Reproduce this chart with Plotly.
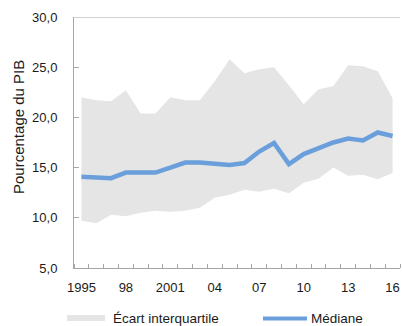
import plotly.graph_objects as go

years = list(range(1995, 2017))
upper = [22.0, 21.7, 21.6, 22.7, 20.4, 20.4, 22.0, 21.7, 21.7, 23.6, 25.8, 24.4,
         24.8, 25.0, 23.2, 21.3, 22.8, 23.1, 25.2, 25.1, 24.6, 21.9]
lower = [9.7, 9.45, 10.3, 10.15, 10.5, 10.7, 10.6, 10.7, 11.0, 12.0, 12.3, 12.8,
         12.6, 12.9, 12.45, 13.5, 13.9, 15.0, 14.2, 14.3, 13.85, 14.45]
median = [14.1, 14.07, 13.95, 14.5, 14.5, 14.5, 15.0, 15.5, 15.5, 15.4, 15.27, 15.45,
          16.6, 17.45, 15.35, 16.35, 16.9, 17.5, 17.9, 17.7, 18.5, 18.15]
tick_years = [1995, 1998, 2001, 2004, 2007, 2010, 2013, 2016]
tick_text = ["1995", "98", "2001", "04", "07", "10", "13", "16"]
y_ticks = [5, 10, 15, 20, 25, 30]
band_name = "Écart interquartile"
line_name = "Médiane"
y_title = "Pourcentage du PIB"

W, H = 402, 326
L, R, T, B = 74, 2, 17, 58
font_family = "Liberation Sans Narrow, Arial Narrow, Liberation Sans, Arial"
band_color = "#e5e5e5"
line_color = "#6a9fdc"
axis_color = "#a6a6a6"
text_color = "#1a1a1a"

pw, ph = W - L - R, H - T - B


def px(x):
    return (x - L) / pw


def py(y):
    return (H - B - y) / ph


fig = go.Figure()
fig.add_trace(go.Scatter(x=years, y=lower, mode="lines", line=dict(width=0, color=band_color),
                         showlegend=False, hoverinfo="skip"))
fig.add_trace(go.Scatter(x=years, y=upper, mode="lines", line=dict(width=0, color=band_color),
                         fill="tonexty", fillcolor=band_color, name=band_name, showlegend=False))
fig.add_trace(go.Scatter(x=years, y=median, mode="lines", line=dict(width=4.5, color=line_color),
                         name=line_name, showlegend=False))

# top border line at 30
fig.add_shape(type="line", xref="paper", yref="y", x0=0, x1=1, y0=30, y1=30,
              line=dict(color=axis_color, width=1))

# legend (drawn manually to match reference placement)
fig.add_shape(type="rect", xref="paper", yref="paper", x0=px(67), x1=px(105),
              y0=py(321), y1=py(315), fillcolor=band_color, line=dict(width=0))
fig.add_shape(type="line", xref="paper", yref="paper", x0=px(263), x1=px(307),
              y0=py(318.5), y1=py(318.5), line=dict(color=line_color, width=4))
fig.add_annotation(text=band_name, xref="paper", yref="paper", x=px(111), y=py(318.5),
                   xanchor="left", yanchor="middle", showarrow=False,
                   font=dict(size=13.5, color=text_color))
fig.add_annotation(text=line_name, xref="paper", yref="paper", x=px(309), y=py(318.5),
                   xanchor="left", yanchor="middle", showarrow=False,
                   font=dict(size=13.5, color=text_color))
# y-axis title
fig.add_annotation(text=y_title, xref="paper", yref="paper", x=px(18), y=py(127),
                   xanchor="center", yanchor="middle", textangle=-90, showarrow=False,
                   font=dict(size=15, color=text_color))

fig.update_layout(
    width=W, height=H,
    margin=dict(l=L, r=R, t=T, b=B),
    plot_bgcolor="white", paper_bgcolor="white",
    separators=", ",
    showlegend=False,
    font=dict(family=font_family, size=13, color=text_color),
    xaxis=dict(range=[1994.5, 2016.5], tickvals=tick_years, ticktext=tick_text,
               showgrid=False, showline=True, linecolor=axis_color, linewidth=1,
               ticks="", zeroline=False, tickfont=dict(size=13), ticklabelstandoff=7,
               automargin=False,
               minor=dict(ticks="inside", tick0=1994.5, dtick=1, ticklen=4,
                          tickcolor=axis_color, showgrid=False)),
    yaxis=dict(range=[5, 30], tickvals=y_ticks, tickformat=".1f",
               showgrid=False, showline=True, linecolor=axis_color, linewidth=1,
               ticks="inside", ticklen=5, tickcolor=axis_color, zeroline=False,
               tickfont=dict(size=13), ticklabelstandoff=13, automargin=False),
)

fig.write_html("out.html", config={"displayModeBar": False},
               post_script="document.body.style.margin='0';document.body.style.padding='0';")
